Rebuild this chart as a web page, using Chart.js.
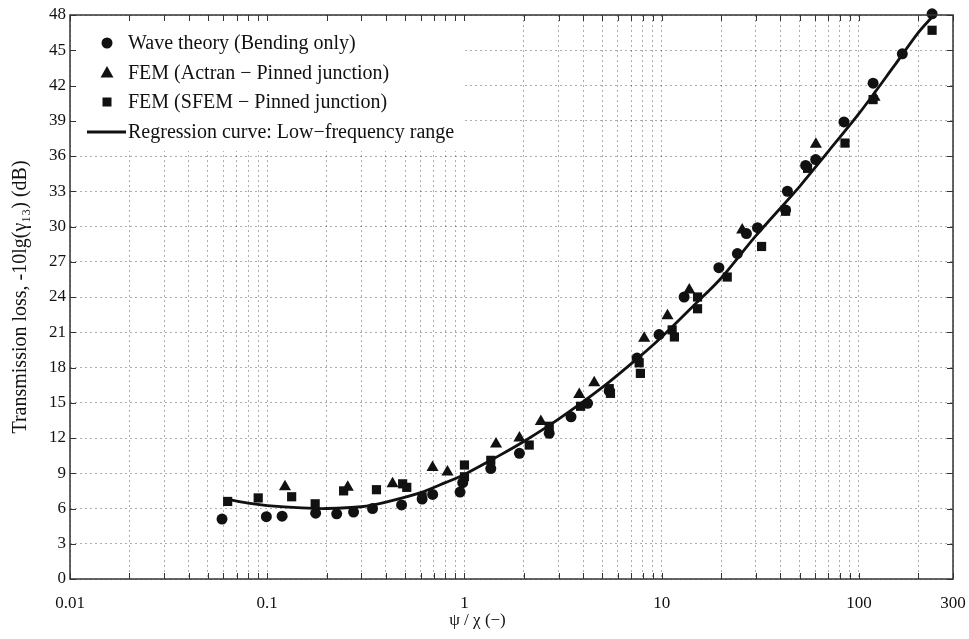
<!DOCTYPE html>
<html>
<head>
<meta charset="utf-8">
<style>
  html, body { margin: 0; padding: 0; background: #fff; }
  #wrap { width: 969px; height: 639px; }
</style>
<script src="https://cdn.jsdelivr.net/npm/chart.js@4.4.1/dist/chart.umd.min.js"></script>
</head>
<body>
<div id="wrap"><canvas id="tl-chart" width="969" height="639"></canvas></div>
<script>
// Wave theory (bending only) - circles
const waveX = [0.059, 0.099, 0.119, 0.176, 0.225, 0.274, 0.342, 0.48, 0.61, 0.69, 0.95, 0.98,
  1.36, 1.9, 2.69, 3.47, 4.21, 5.42, 7.5, 9.7, 13.0, 19.5, 24.2, 26.9, 30.6, 42.5, 43.4,
  53.7, 60.4, 84, 118, 166, 235];
const waveY = [5.1, 5.3, 5.35, 5.6, 5.55, 5.7, 6.0, 6.3, 6.8, 7.2, 7.4, 8.2,
  9.4, 10.7, 12.4, 13.8, 14.95, 16.0, 18.8, 20.8, 24.0, 26.5, 27.7, 29.4, 29.9, 31.4, 33.0,
  35.2, 35.7, 38.9, 42.2, 44.7, 48.1];

// FEM, Actran, pinned junction - triangles
const actranX = [0.123, 0.256, 0.432, 0.689, 0.82, 1.446, 1.9, 2.44, 3.82, 4.55, 8.15, 10.7,
  13.8, 25.6, 60.5, 120];
const actranY = [7.85, 7.8, 8.1, 9.5, 9.1, 11.5, 12.0, 13.4, 15.7, 16.7, 20.5, 22.4,
  24.6, 29.7, 37.0, 41.0];

// FEM, SFEM, pinned junction - squares
const sfemX = [0.063, 0.09, 0.133, 0.175, 0.244, 0.358, 0.486, 0.51, 0.61, 1.0, 1.0, 1.36,
  2.13, 2.69, 3.88, 5.42, 5.5, 7.69, 7.8, 11.3, 11.6, 15.2, 15.2, 21.5, 32.1, 42.5, 54.9,
  85, 118, 235];
const sfemY = [6.6, 6.9, 7.0, 6.4, 7.5, 7.6, 8.1, 7.8, 7.0, 9.7, 8.7, 10.1,
  11.4, 13.0, 14.7, 16.2, 15.8, 18.4, 17.5, 21.2, 20.6, 24.0, 23.0, 25.7, 28.3, 31.3, 34.95,
  37.1, 40.8, 46.7];

// Regression curve
const fitX = [0.062, 0.08, 0.1, 0.15, 0.2, 0.3, 0.4, 0.6, 0.8, 1, 1.5, 2, 3, 5, 7.7, 10,
  15, 20, 30, 50, 70, 100, 150, 200, 240];
const fitY = [6.8, 6.45, 6.25, 6.05, 6.0, 6.15, 6.55, 7.35, 8.2, 8.9, 10.5, 11.7, 13.6, 16.3,
  18.9, 20.6, 23.5, 25.6, 29.2, 33.4, 36.4, 39.6, 43.6, 46.5, 48.0];

const seriesLabels = [
  'Wave theory (Bending only)',
  'FEM (Actran \u2212 Pinned junction)',
  'FEM (SFEM \u2212 Pinned junction)',
  'Regression curve: Low\u2212frequency range'
];

// Axis ticks
const xTickValues = [0.01, 0.1, 1, 10, 100, 300];
const xTickLabels = ['0.01', '0.1', '1', '10', '100', '300'];
const xGridValues = [];
for (let k = -2; k <= 2; k++) {
  for (let m = 1; m <= 9; m++) {
    const v = m * Math.pow(10, k);
    if (v <= 300) xGridValues.push(v);
  }
}
const yMin = 0, yMax = 48, yStep = 3;

const serif = 'Liberation Serif, Times New Roman, serif';
const ink = '#111';

const toPts = (xs, ys) => xs.map((x, i) => ({ x: x, y: ys[i] }));

// white legend in top-left corner, drawn before the data
function drawLegend(chart) {
  const ctx = chart.ctx;
  const a = chart.chartArea;
  ctx.save();
  ctx.fillStyle = '#fff';
  ctx.fillRect(a.left + 1, a.top + 1, 394, 135);
  ctx.fillStyle = ink;
  ctx.strokeStyle = ink;
  ctx.font = '20px ' + serif;
  ctx.textBaseline = 'middle';
  const mx = a.left + 37;
  const rows = [28, 58, 87, 117];
  rows.forEach((dy, i) => {
    const y = a.top + dy;
    ctx.beginPath();
    if (i === 0) {
      ctx.arc(mx, y, 5.5, 0, Math.PI * 2);
      ctx.fill();
    } else if (i === 1) {
      ctx.moveTo(mx, y - 7);
      ctx.lineTo(mx + 6.5, y + 4.5);
      ctx.lineTo(mx - 6.5, y + 4.5);
      ctx.closePath();
      ctx.fill();
    } else if (i === 2) {
      ctx.fillRect(mx - 4.5, y - 4.5, 9, 9);
    } else {
      ctx.lineWidth = 2.8;
      ctx.moveTo(a.left + 17, y);
      ctx.lineTo(a.left + 56, y);
      ctx.stroke();
    }
    ctx.fillText(seriesLabels[i], a.left + 58, y + 1);
  });
  ctx.restore();
}

// box round the plot and inward tick marks
function drawFrame(chart) {
  const ctx = chart.ctx;
  const a = chart.chartArea;
  const xs = chart.scales.x, ys = chart.scales.y;
  ctx.save();
  ctx.strokeStyle = '#333';
  ctx.lineWidth = 1.5;
  ctx.strokeRect(a.left, a.top, a.right - a.left, a.bottom - a.top);
  ctx.lineWidth = 1;
  ctx.beginPath();
  xGridValues.forEach(v => {
    const px = Math.round(xs.getPixelForValue(v)) + 0.5;
    ctx.moveTo(px, a.bottom); ctx.lineTo(px, a.bottom - 6);
    ctx.moveTo(px, a.top); ctx.lineTo(px, a.top + 6);
  });
  for (let v = yMin; v <= yMax; v += yStep) {
    const py = Math.round(ys.getPixelForValue(v)) + 0.5;
    ctx.moveTo(a.left, py); ctx.lineTo(a.left + 6, py);
    ctx.moveTo(a.right, py); ctx.lineTo(a.right - 6, py);
  }
  ctx.stroke();
  ctx.restore();
}

const framePlugin = {
  id: 'frame',
  beforeDatasetsDraw: drawLegend,
  afterDraw: drawFrame
};

const ctx = document.getElementById('tl-chart').getContext('2d');
new Chart(ctx, {
  type: 'scatter',
  data: {
    datasets: [
      {
        label: seriesLabels[3],
        data: toPts(fitX, fitY),
        showLine: true,
        borderColor: ink,
        borderWidth: 2.8,
        pointRadius: 0,
        tension: 0.3,
        fill: false,
        clip: 4,
        order: 3
      },
      {
        label: seriesLabels[0],
        data: toPts(waveX, waveY),
        pointStyle: 'circle',
        pointRadius: 5.5,
        backgroundColor: ink,
        borderColor: ink,
        borderWidth: 0,
        clip: 10,
        order: 2
      },
      {
        label: seriesLabels[1],
        data: toPts(actranX, actranY),
        pointStyle: 'triangle',
        pointRadius: 7,
        backgroundColor: ink,
        borderColor: ink,
        borderWidth: 0,
        clip: 10,
        order: 1
      },
      {
        label: seriesLabels[2],
        data: toPts(sfemX, sfemY),
        pointStyle: 'rect',
        pointRadius: 6.5,
        backgroundColor: ink,
        borderColor: ink,
        borderWidth: 0,
        clip: 10,
        order: 0
      }
    ]
  },
  options: {
    responsive: false,
    animation: false,
    layout: { padding: { left: 0, right: 16, top: 15, bottom: 0 } },
    plugins: {
      legend: { display: false },
      tooltip: { enabled: false }
    },
    scales: {
      x: {
        type: 'logarithmic',
        min: 0.01,
        max: 300,
        afterBuildTicks: s => { s.ticks = xGridValues.map(v => ({ value: v })); },
        afterFit: s => {
          s.height = 60;
          s.paddingLeft = 0;
          s.paddingRight = 0;
        },
        ticks: {
          autoSkip: false,
          maxRotation: 0,
          padding: 14,
          color: ink,
          font: { family: serif, size: 17 },
          callback: v => {
            const i = xTickValues.findIndex(t => Math.abs(Math.log10(t) - Math.log10(v)) < 1e-6);
            return i >= 0 ? xTickLabels[i] : '';
          }
        },
        grid: { color: 'rgba(0,0,0,0.32)', lineWidth: 1, drawTicks: false },
        border: { display: false, dash: [2, 3] },
        title: {
          display: true,
          text: '\u03C8 / \u03C7 (\u2212)\u2003\u2003\u2003\u2003',
          color: ink,
          font: { family: serif, size: 17 },
          padding: { top: 0, bottom: 8 }
        }
      },
      y: {
        type: 'linear',
        min: yMin,
        max: yMax,
        afterFit: s => {
          s.width = 70;
          s.paddingTop = 0;
          s.paddingBottom = 0;
        },
        ticks: {
          stepSize: yStep,
          padding: 4,
          color: ink,
          font: { family: serif, size: 17 }
        },
        grid: { color: 'rgba(0,0,0,0.32)', lineWidth: 1, drawTicks: false },
        border: { display: false, dash: [2, 3] },
        title: {
          display: true,
          text: 'Transmission loss, -10lg(\u03B3\u2081\u2083) (dB)',
          color: ink,
          font: { family: serif, size: 20 },
          padding: { top: 9, bottom: 0 }
        }
      }
    }
  },
  plugins: [framePlugin]
});
</script>
</body>
</html>
